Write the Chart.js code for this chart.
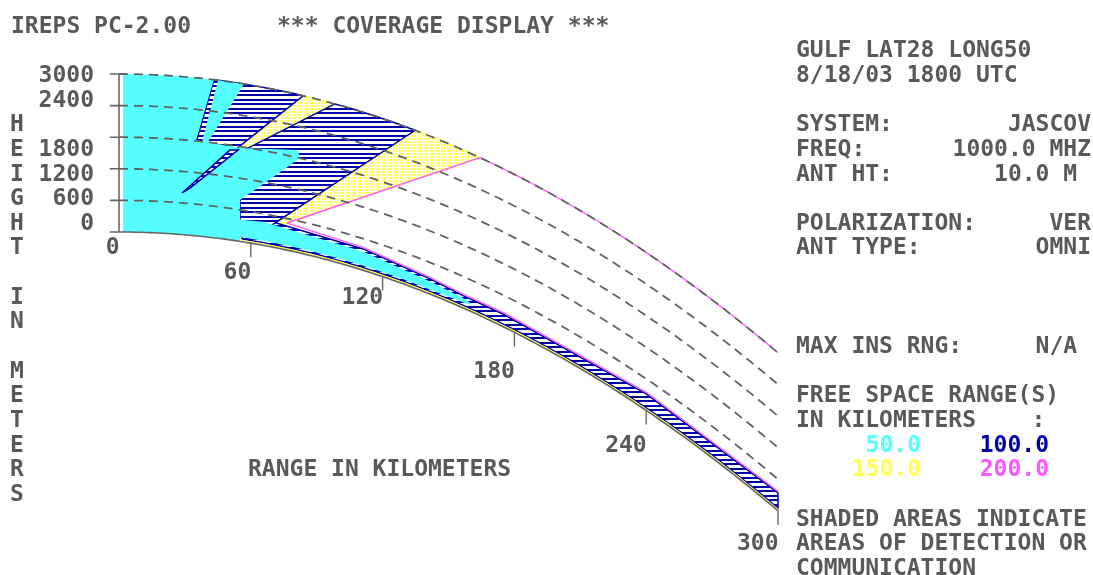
<!DOCTYPE html>
<html>
<head>
<meta charset="utf-8">
<script src="https://cdn.jsdelivr.net/npm/chart.js@4.4.0/dist/chart.umd.min.js"></script>
<style>
html, body { margin: 0; padding: 0; background: #fff; overflow: hidden; }
#wrap { width: 1093px; height: 575px; }
</style>
</head>
<body>
<div id="wrap"><canvas id="myChart" width="1093" height="575"></canvas></div>
<script>
// 4/3 earth: drop below the flat line in metres = r*r/17 (r in km)
const EARTH_K = 17;

const rangeTicks = [0, 60, 120, 180, 240, 300];
const heightTicks = [0, 600, 1200, 1800, 2400, 3000];
const gridHeights = [600, 1200, 1800, 2400, 3000];
const freeSpaceRanges = [50.0, 100.0, 150.0, 200.0];

// shaded areas as [range km, height m]
// 50 km (cyan)
const cyanMain = [[1.8, 0], [1.8, 3000], [43.2, 3000], [35.0, 1820], [55.1, 1775], [81.5, 1950], [82.4, 1805], [65.1, 1140], [55.1, 785], [55.1, 0]];
const cyanStrip = [[45.1, 3000], [56.9, 3000], [40.5, 1805], [37.8, 1795]];
const cyanSurface = [[50, 85], [50, 400], [65.6, 450], [111.1, 355], [141.6, 240], [156.6, 190], [160.0, 160], [159.5, 115], [141.6, 85]];
// 100 km (navy hatch)
const hatchUpper = [[28.7, 810], [43.2, 3000], [83.8, 3000]];
const hatchSliver = [[28.7, 790], [32.3, 895], [54.2, 1730], [50.5, 1705]];
const hatchMid = [[98.3, 3000], [134.8, 3000], [69.7, 420], [55.1, 370], [55.1, 1070], [39.2, 1270]];
const hatchSurface = [[56, 50], [56, 440], [65.6, 500], [111.1, 405], [141.6, 290], [156.6, 235], [175, 240], [240, 315], [300, 340], [300, 50]];
// 150 km (yellow dots)
const dotsUpper = [[83.8, 3000], [98.3, 3000], [39.2, 1270], [28.7, 810]];
const dotsMid = [[69.7, 420], [134.8, 3000], [164.3, 3000], [76.5, 515]];
// 200 km (magenta outline)
const magentaRay = [[76.5, 515], [164.3, 3000]];
const magentaTop = [[164.3, 3000], [300, 3000]];
const magentaLow = [[76.5, 515], [111.1, 435], [141.6, 320], [156.6, 265], [175, 270], [240, 345], [300, 370]];
const yellowLow = [[56, 22], [300, 22]];

const INK = '#595959';
const CYAN = '#55ffff', NAVY = '#0000aa', YELLOW = '#ffff55', MAGENTA = '#ff55ff';

const canvas = document.getElementById('myChart');
const ctx = canvas.getContext('2d');

// range/height -> display coords; edges at one height follow the curved earth
function toXY(pts, closed) {
  const src = closed ? pts.concat([pts[0]]) : pts;
  const out = [];
  for (let i = 0; i < src.length; i++) {
    const r = src[i][0], h = src[i][1];
    out.push({ x: r, y: h - r * r / EARTH_K });
    const nxt = src[i + 1];
    if (nxt && nxt[1] === h && Math.abs(nxt[0] - r) > 3) {
      const n = Math.ceil(Math.abs(nxt[0] - r) / 2);
      for (let k = 1; k < n; k++) {
        const rr = r + (nxt[0] - r) * k / n;
        out.push({ x: rr, y: h - rr * rr / EARTH_K });
      }
    }
  }
  return out;
}

function hatchPattern() {
  const c = document.createElement('canvas');
  c.width = 8; c.height = 9;
  const g = c.getContext('2d');
  g.fillStyle = '#fff'; g.fillRect(0, 0, 8, 9);
  g.fillStyle = NAVY; g.fillRect(0, 0, 8, 2); g.fillRect(0, 4, 8, 2);
  return ctx.createPattern(c, 'repeat');
}
function dotPattern() {
  const c = document.createElement('canvas');
  c.width = 3; c.height = 3;
  const g = c.getContext('2d');
  g.fillStyle = '#fff'; g.fillRect(0, 0, 3, 3);
  g.fillStyle = YELLOW; g.fillRect(0, 0, 2, 2);
  return ctx.createPattern(c, 'repeat');
}
const HATCH = hatchPattern();
const DOTS = dotPattern();

function area(pts, fillStyle, border, order) {
  return {
    data: toXY(pts, true), showLine: true, fill: 'shape',
    backgroundColor: fillStyle,
    borderColor: border || 'rgba(0,0,0,0)', borderWidth: border ? 1.5 : 0,
    pointRadius: 0, order: order
  };
}
function line(pts, color, width, dash, order) {
  return {
    data: toXY(pts, false), showLine: true, fill: false,
    borderColor: color, borderWidth: width, borderDash: dash || [],
    pointRadius: 0, order: order
  };
}

const datasets = [
  area(dotsUpper, DOTS, YELLOW, 8),
  area(dotsMid, DOTS, YELLOW, 8),
  area(hatchUpper, HATCH, NAVY, 7),
  area(hatchMid, HATCH, NAVY, 7),
  area(hatchSurface, HATCH, NAVY, 7),
  area(cyanMain, CYAN, null, 6),
  area(cyanStrip, CYAN, null, 6),
  area(cyanSurface, CYAN, null, 6),
  area(hatchSliver, HATCH, NAVY, 5.5),
  line(magentaRay, MAGENTA, 1.5, null, 5),
  line(magentaTop, MAGENTA, 1.3, null, 5),
  line(magentaLow, MAGENTA, 1.3, null, 5),
  line(yellowLow, YELLOW, 1.5, null, 5)
];

gridHeights.forEach(h => datasets.push(line([[0, h], [300, h]], '#626262', 1.8, [9, 6], 3)));

// axes: vertical height axis, earth surface, tick marks
const TICK_KM = 4.2, TICK_M = 266;
datasets.push(line([[0, 0], [0, 3000]], '#666', 1.6, null, 2));
datasets.push(line([[0, 0], [300, 0]], '#666', 1.6, null, 2));
heightTicks.forEach(h => datasets.push(line([[-TICK_KM, h], [0, h]], '#666', 1.6, null, 2)));
rangeTicks.slice(1).forEach(r => datasets.push(line([[r, 0], [r, -TICK_M]], '#666', 1.4, null, 2)));

const ROW0 = 24.3, ROW = 24.64;
const rowY = n => ROW0 + n * ROW;
const FONT = 'bold 23px "DejaVu Sans Mono", "Liberation Mono", monospace';

const textPlugin = {
  id: 'screenText',
  afterDraw(chart) {
    const c = chart.ctx;
    const xs = chart.scales.x, ys = chart.scales.y;
    c.save();
    c.font = FONT;
    c.textBaseline = 'alphabetic';
    const put = (s, x, row, color, align) => {
      c.fillStyle = color || INK;
      c.textAlign = align || 'left';
      c.fillText(s, x, rowY(row) + 8.4);
    };

    put('IREPS PC-2.00', 11, 0);
    put('*** COVERAGE DISPLAY ***', 277, 0);

    const L = 796, R = 1091;
    put('GULF LAT28 LONG50', L, 1);
    put('8/18/03 1800 UTC', L, 2);
    put('SYSTEM:', L, 4); put('JASCOV', R, 4, null, 'right');
    put('FREQ:', L, 5); put('1000.0 MHZ', R, 5, null, 'right');
    put('ANT HT:', L, 6); put('10.0 M ', R, 6, null, 'right');
    put('POLARIZATION:', L, 8); put('VER', R, 8, null, 'right');
    put('ANT TYPE:', L, 9); put('OMNI', R, 9, null, 'right');
    put('MAX INS RNG:', L, 13); put('N/A ', R, 13, null, 'right');
    put('FREE SPACE RANGE(S)', L, 15);
    put('IN KILOMETERS    :', L, 16);
    const fsColors = [CYAN, NAVY, YELLOW, MAGENTA];
    freeSpaceRanges.forEach((v, i) => {
      put(v.toFixed(1), i % 2 === 0 ? 921 : 1049, 17 + Math.floor(i / 2), fsColors[i], 'right');
    });
    put('SHADED AREAS INDICATE', L, 20);
    put('AREAS OF DETECTION OR', L, 21);
    put('COMMUNICATION', L, 22);

    // vertical axis title
    'HEIGHT IN METERS'.split('').forEach((ch, i) => {
      if (ch !== ' ') put(ch, 10, 4 + i);
    });
    put('RANGE IN KILOMETERS', 248, 18);

    // height tick labels, snapped to the nearest text row
    heightTicks.forEach(h => {
      const py = ys.getPixelForValue(h);
      put(String(h), 94, Math.round((py - ROW0) / ROW), null, 'right');
    });
    // range tick labels on the first text row below each tick
    rangeTicks.forEach(r => {
      const px = xs.getPixelForValue(r);
      const bottom = ys.getPixelForValue(-r * r / EARTH_K - (r === 0 ? 0 : TICK_M));
      const row = Math.ceil((bottom + (r === 0 ? 13 : 0) - ROW0) / ROW);
      put(String(r), px + 0.5, row, null, 'right');
    });
    c.restore();
  }
};

new Chart(ctx, {
  type: 'scatter',
  data: { datasets: datasets },
  options: {
    responsive: false,
    animation: false,
    events: [],
    devicePixelRatio: 1,
    layout: { padding: 0 },
    scales: {
      // 0 km at x=119px, 300 km at x=778px; 0 m at y=232px, 3000 m at y=74px
      x: { type: 'linear', display: false, min: -54.173, max: 443.40 },
      y: { type: 'linear', display: false, min: -6512.7, max: 4405.1 }
    },
    plugins: { legend: { display: false }, tooltip: { enabled: false } }
  },
  plugins: [textPlugin]
});
</script>
</body>
</html>
